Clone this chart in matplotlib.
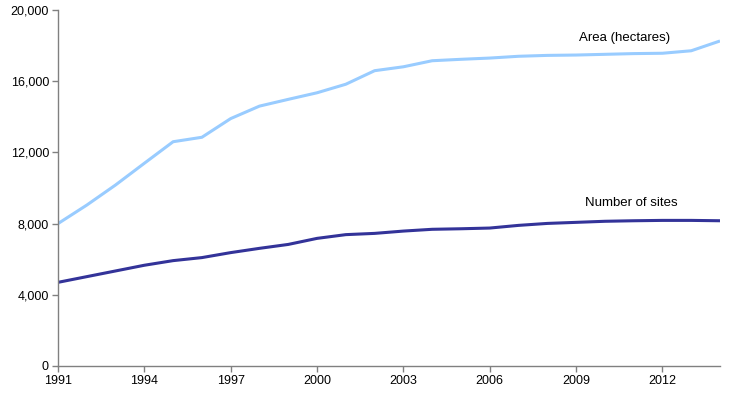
import matplotlib
matplotlib.use("Agg")
import matplotlib.pyplot as plt
from matplotlib.ticker import FuncFormatter

years = list(range(1991, 2015))
area_hectares = [8000, 9040, 10170, 11390, 12600, 12850, 13900, 14600, 14980, 15350,
                 15830, 16590, 16810, 17150, 17230, 17300, 17400, 17450, 17470, 17510,
                 17550, 17570, 17710, 18260]
number_of_sites = [4700, 5020, 5340, 5660, 5920, 6090, 6370, 6610, 6830, 7170,
                   7380, 7450, 7580, 7680, 7710, 7750, 7900, 8010, 8070, 8130,
                   8160, 8180, 8180, 8160]
x_ticks = list(range(1991, 2013, 3))
y_ticks = [0, 4000, 8000, 12000, 16000, 20000]

plt.rcParams['font.family'] = ['Liberation Sans', 'DejaVu Sans']

fig = plt.figure(figsize=(7.37, 3.96), dpi=100)
ax = fig.add_axes([58/737, 30/396, (720-58)/737, (366-10)/396])

ax.plot(years, area_hectares, color='#99CCFF', lw=2.2, solid_capstyle='butt',
        solid_joinstyle='round')
ax.plot(years, number_of_sites, color='#333399', lw=2.2, solid_capstyle='butt',
        solid_joinstyle='round')

ax.set_xlim(1991, 2014)
ax.set_ylim(0, 20000)
ax.set_xticks(x_ticks)
ax.set_yticks(y_ticks)
ax.yaxis.set_major_formatter(FuncFormatter(lambda v, p: f"{int(v):,}"))

for s in ['top', 'right']:
    ax.spines[s].set_visible(False)
for s in ['left', 'bottom']:
    ax.spines[s].set_color('#808080')
    ax.spines[s].set_linewidth(1.0)
ax.tick_params(axis='both', direction='out', length=4, width=1, color='#808080',
               labelsize=9, labelcolor='#000000', pad=2.5)

ax.text(2010.67, 18430, 'Area (hectares)', ha='center', va='center', fontsize=9.5, color='#000000')
ax.text(2010.93, 9170, 'Number of sites', ha='center', va='center', fontsize=9.5, color='#000000')

fig.savefig('out.png', dpi=100)
